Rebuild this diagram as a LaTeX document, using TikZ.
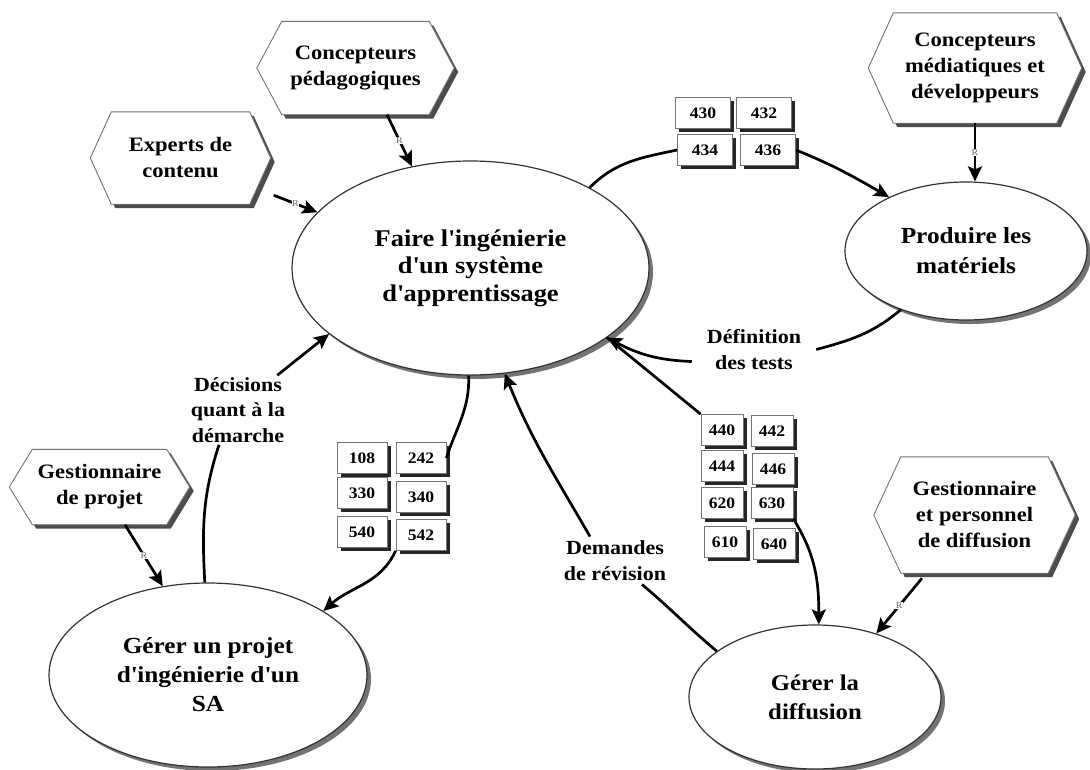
\documentclass[tikz,border=0pt]{standalone}
\usepackage{fontspec}
\setmainfont{Liberation Serif}[FakeStretch=1.1]
\usetikzlibrary{shapes.geometric,arrows.meta,shadows}
\pgfdeclarelayer{background}
\pgfsetlayers{background,main}

% straight apostrophe
\newcommand{\ap}{\textquotesingle}

% hexagonal frame (flat top and bottom, pointed ends) around a named node
\newcommand{\hexframe}[2]{%
  \fill[hexshade] ([shift={(4,4)}]#1.north west) -- ([shift={(4,4)}]#1.north east)
    -- ([shift={(4,4)},xshift=#2]#1.east) -- ([shift={(4,4)}]#1.south east)
    -- ([shift={(4,4)}]#1.south west) -- ([shift={(4,4)},xshift=-#2]#1.west) -- cycle;
  \draw[hexedge] (#1.north west) -- (#1.north east) -- ([xshift=#2]#1.east)
    -- (#1.south east) -- (#1.south west) -- ([xshift=-#2]#1.west) -- cycle;
}

\begin{document}
\begin{tikzpicture}[x=1pt,y=-1pt,
  proc/.style={ellipse, draw=black!80, line width=1.2pt, fill=white, inner sep=0pt,
    align=center, drop shadow={shadow xshift=4pt, shadow yshift=-4pt, fill=black!55, opacity=1}},
  actor/.style={rectangle, inner sep=0pt, align=center,
    font=\fontsize{20.5}{26}\selectfont\bfseries},
  hexshade/.style={fill=black!70},
  hexedge/.style={draw=black!55, line width=0.9pt, fill=white},
  numbox/.style={rectangle, draw=black!55, line width=0.8pt, fill=white, inner sep=0pt,
    minimum height=31pt, font=\fontsize{16}{16}\selectfont\bfseries,
    drop shadow={shadow xshift=3.5pt, shadow yshift=-3.5pt, fill=black!85, opacity=1}},
  numA/.style={numbox, minimum width=55pt},
  numB/.style={numbox, minimum width=50pt},
  numC/.style={numbox, minimum width=42pt},
  lbl/.style={align=center, inner ysep=2pt, font=\fontsize{20}{25.5}\selectfont\bfseries},
  flow/.style={line width=2.7pt},
  flowarrow/.style={flow, -{Stealth[length=15pt, width=14pt, inset=3pt]}},
  rtag/.style={font=\fontsize{9}{9}\selectfont, text=black!60, fill=white, inner sep=0.6pt}
]
\useasboundingbox (0,0) rectangle (1090,769);

% processes
\node[proc, minimum width=357pt, minimum height=214pt,
  font=\fontsize{24}{27.5}\selectfont\bfseries] (faire) at (470.5,268)
  {Faire l\ap ingénierie\\d\ap un système\\d\ap apprentissage};
\node[proc, minimum width=242pt, minimum height=138pt,
  font=\fontsize{23}{30}\selectfont\bfseries] (produire) at (966,251)
  {Produire les\\matériels};
\node[proc, minimum width=318pt, minimum height=184pt,
  font=\fontsize{23}{29}\selectfont\bfseries] (projet) at (208,675)
  {Gérer un projet\\d\ap ingénierie d\ap un\\SA};
\node[proc, minimum width=252pt, minimum height=144pt,
  font=\fontsize{22.5}{29}\selectfont\bfseries] (diffusion) at (815,697)
  {Gérer la\\diffusion};

% actors
\node[actor, minimum width=147pt, minimum height=93pt] (cpeda) at (355.5,68)
  {Concepteurs\\pédagogiques};
\node[actor, minimum width=138pt, minimum height=92pt] (experts) at (180.5,158)
  {Experts de\\contenu};
\node[actor, minimum width=163pt, minimum height=110pt] (cmedia) at (975,68)
  {Concepteurs\\médiatiques et\\développeurs};
\node[actor, minimum width=134pt, minimum height=75pt] (gproj) at (99.5,487)
  {Gestionnaire\\de projet};
\node[actor, minimum width=147pt, minimum height=116pt] (gdiff) at (974.5,515)
  {Gestionnaire\\et personnel\\de diffusion};

\begin{pgfonlayer}{background}
  \fill[white] (0,0) rectangle (1090,769);
  \hexframe{cpeda}{25pt}
  \hexframe{experts}{21pt}
  \hexframe{cmedia}{25pt}
  \hexframe{gproj}{23pt}
  \hexframe{gdiff}{27pt}
\end{pgfonlayer}

% document boxes
\node[numA] (b430) at (703,113) {430};
\node[numA] (b432) at (764,113) {432};
\node[numA] (b434) at (705,150) {434};
\node[numA] (b436) at (768,150) {436};

\node[numB] (b108) at (362,458) {108};
\node[numB] (b242) at (421,458) {242};
\node[numB] (b330) at (362,493) {330};
\node[numB] (b340) at (421,497) {340};
\node[numB] (b540) at (362,532) {540};
\node[numB] (b542) at (421,535) {542};

\node[numC] (b440) at (722,430) {440};
\node[numC] (b442) at (772,431) {442};
\node[numC] (b444) at (722,466) {444};
\node[numC] (b446) at (773,469) {446};
\node[numC] (b620) at (722,503) {620};
\node[numC] (b630) at (772,503) {630};
\node[numC] (b610) at (725,542) {610};
\node[numC] (b640) at (774,544) {640};

% flow labels
\node[lbl, inner xsep=15pt] (deftxt) at (754,349.5) {Définition\\des tests};
\node[lbl, inner xsep=2pt] (dectxt) at (238,410) {Décisions\\quant à la\\démarche};
\node[lbl, inner xsep=2pt, inner ysep=4pt] (demtxt) at (615,560.5) {Demandes\\de révision};

% flows between processes
\draw[flow] (faire.34) to[out=45, in=192] (b434.west);
\draw[flowarrow] (b436.east) to[out=-22, in=150] (produire.145);

\draw[flow] (produire.222) to[out=-140, in=15] (deftxt.east);
\draw[flow] (faire.-27) -- (b440.north west);
\draw[flowarrow] ([yshift=-12pt]deftxt.west) to[out=178, in=-28] (faire.-27);

\draw[flowarrow] (b630.south east) to[out=-58, in=90] (diffusion.87);

\draw[flow] (faire.-91) to[out=-88, in=72] (b242.east);
\draw[flowarrow] (b542.south west) to[out=-115, in=42] (projet.29);

\draw[flow] (projet.92) to[out=93, in=-108] ([xshift=-19pt]dectxt.south);
\draw[flowarrow] ([xshift=-10pt]dectxt.north east) -- (faire.205);

\draw[flow] (diffusion.155) to[out=140, in=-40] ([xshift=27pt]demtxt.south);
\draw[flowarrow] ([xshift=-25pt]demtxt.north) to[out=120, in=-68] (faire.-72);

% responsibilities
\draw[flowarrow] ([xshift=31.5pt]cpeda.south) -- node[rtag] {R} (faire.120);
\draw[flowarrow] ([shift={(24,-9)}]experts.south east) -- node[rtag] {R} (faire.160);
\draw[flowarrow] (cmedia.south) -- node[rtag] {R} (cmedia.south |- produire.north);
\draw[flowarrow] ([xshift=25.5pt]gproj.south) -- node[rtag] {R} (projet.117);
\draw[flowarrow] ([shift={(-52.5,5)}]gdiff.south) -- node[rtag] {R} (diffusion.46);
\end{tikzpicture}
\end{document}
